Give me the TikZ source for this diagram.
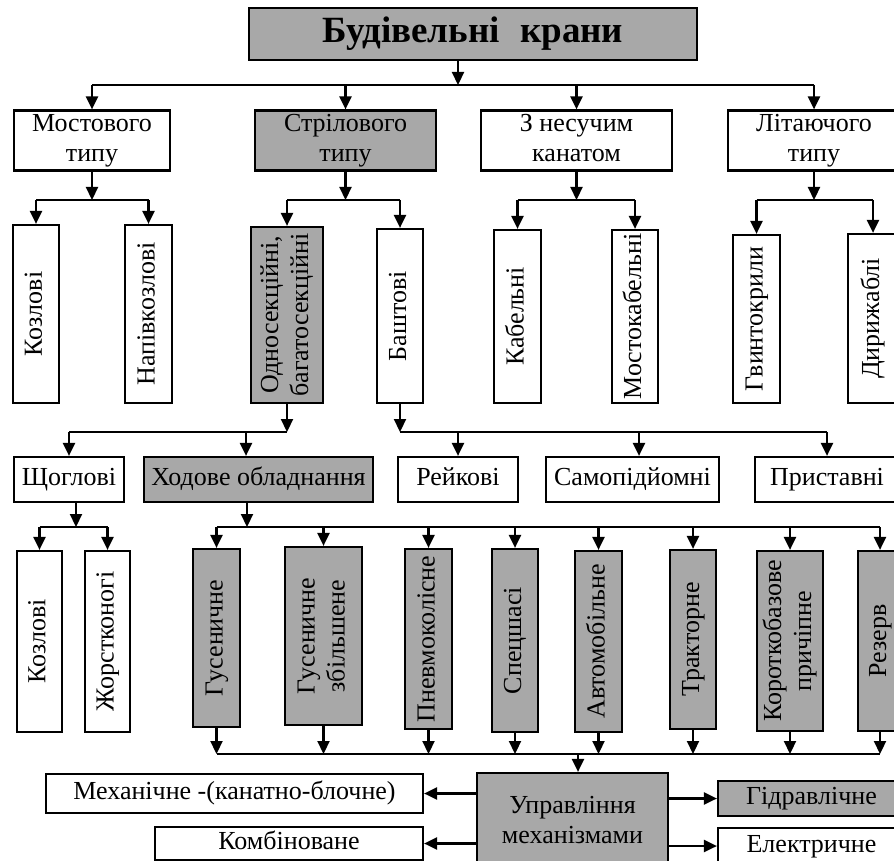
\documentclass[tikz,border=0pt]{standalone}
\usepackage{fontspec}
\setmainfont{Liberation Serif}
\usetikzlibrary{arrows.meta,calc}
\definecolor{boxgray}{RGB}{168,168,168}
\newcommand\mkbox[7]{\node[#2, minimum width={#4-#3}, minimum height={#6-#5}] (#1) at ({(#3+#4)/2},{(#5+#6)/2}) {#7};}
\newcommand\vt[1]{\rotatebox{90}{\strut #1}}
\newcommand\vtt[2]{\rotatebox{90}{\begin{tabular}{@{}c@{}}\strut #1\\\strut #2\end{tabular}}}
\newcommand\hzt[1]{\strut #1}
\begin{document}
\begin{tikzpicture}[x=1pt,y=-1pt, font=\fontsize{26}{30}\selectfont,
  box/.style={draw, line width=2.2pt, inner sep=0pt, align=center, fill=white},
  gbox/.style={box, fill=boxgray},
  arr/.style={line width=2.2pt, -{Triangle[length=13pt,width=12pt]}},
  ln/.style={line width=2.2pt}]
\useasboundingbox (0,0) rectangle (894,861);
\fill[white] (0,0) rectangle (894,861);
\clip (0,0) rectangle (894,861);
% row 0
\mkbox{top}{gbox}{249}{697}{8}{60}{\fontsize{37}{42}\selectfont\bfseries\strut Будівельні\hspace{0.55em}крани}
% row 1
\mkbox{mos}{box}{14}{170}{111}{170}{\hzt{Мостового}\\\hzt{типу}}
\mkbox{str}{gbox}{255}{436}{111}{170}{\hzt{Стрілового}\\\hzt{типу}}
\mkbox{nes}{box}{481}{672}{111}{170}{\hzt{З несучим}\\\hzt{канатом}}
\mkbox{lit}{box}{728}{900}{111}{170}{\hzt{Літаючого}\\\hzt{типу}}
% row 2
\mkbox{koza}{box}{13}{59}{225}{403}{\vt{Козлові}}
\mkbox{nap}{box}{125}{172}{225}{403}{\vt{Напівкозлові}}
\mkbox{odn}{gbox}{251}{323}{227}{403}{\vtt{Односекційні,}{багатосекційні}}
\mkbox{bas}{box}{377}{423}{229}{403}{\vt{Баштові}}
\mkbox{kab}{box}{494}{541}{230}{403}{\vt{Кабельні}}
\mkbox{mkab}{box}{612}{658}{230}{403}{\vt{Мостокабельні}}
\mkbox{gvy}{box}{733}{780}{235}{403}{\vt{Гвинтокрили}}
\mkbox{dyr}{box}{848}{898}{234}{403}{\vt{Дирижаблі}}
% row 3
\mkbox{shch}{box}{14}{124}{457}{502}{\hzt{Щоглові}}
\mkbox{hod}{gbox}{144}{373}{457}{502}{\hzt{Ходове обладнання}}
\mkbox{rei}{box}{398}{518}{457}{502}{\hzt{Рейкові}}
\mkbox{sam}{box}{546}{719}{457}{502}{\hzt{Самопідйомні}}
\mkbox{pry}{box}{755}{899}{457}{502}{\hzt{Приставні}}
% row 4
\mkbox{kozb}{box}{17}{62}{551}{732}{\vt{Козлові}}
\mkbox{zhor}{box}{85}{130}{551}{732}{\vt{Жорстконогі}}
\mkbox{gus}{gbox}{193}{240}{549}{727}{\vt{Гусеничне}}
\mkbox{gusz}{gbox}{285}{362}{547}{725}{\vtt{Гусеничне}{збільшене}}
\mkbox{pnev}{gbox}{405}{452}{549}{729}{\vt{Пневмоколісне}}
\mkbox{spec}{gbox}{492}{538}{549}{732}{\vt{Спецшасі}}
\mkbox{avto}{gbox}{575}{622}{551}{732}{\vt{Автомобільне}}
\mkbox{trak}{gbox}{670}{716}{550}{729}{\vt{Тракторне}}
\mkbox{kor}{gbox}{757}{823}{551}{731}{\vtt{Короткобазове}{причіпне}}
\mkbox{rez}{gbox}{858}{902}{551}{731}{\vt{Резерв}}
% row 5
\mkbox{upr}{gbox}{477}{668}{773}{871}{\hzt{Управління}\\\hzt{механізмами}}
\mkbox{mech}{box}{46}{423}{774}{813}{\hzt{Механічне -(канатно-блочне)}}
\mkbox{komb}{box}{155}{423}{827}{860}{\hzt{Комбіноване}}
\mkbox{hidr}{gbox}{718}{905}{781}{816}{\hzt{Гідравлічне}}
\mkbox{elek}{box}{718}{905}{828}{864}{\hzt{Електричне}}
% connectors row0 -> row1
\coordinate (b0) at (458,85);
\draw[arr] (top.south -| b0) -- (b0);
\draw[ln] (b0 -| mos.north) -- (b0 -| lit.north);
\foreach \n in {mos,str,nes,lit} \draw[arr] (b0 -| \n.north) -- (\n.north);
% row1 -> row2
\coordinate (b1) at (0,200);
\foreach \p/\a/\b in {mos/koza/nap, str/odn/bas, nes/kab/mkab, lit/gvy/dyr}{
  \draw[arr] (\p.south) -- (\p.south |- b1);
  \draw[ln] (\a.north |- b1) -- (\b.north |- b1);
  \draw[arr] (\a.north |- b1) -- (\a.north);
  \draw[arr] (\b.north |- b1) -- (\b.north);
}
% row2 -> row3
\coordinate (b2) at (0,432);
\coordinate (h1) at (246,432);
\draw[arr] (odn.south) -- (odn.south |- b2);
\draw[ln] (shch.north |- b2) -- (odn.south |- b2);
\draw[arr] (shch.north |- b2) -- (shch.north);
\draw[arr] (h1) -- (h1 |- hod.north);
\draw[arr] (bas.south) -- (bas.south |- b2);
\draw[ln] (bas.south |- b2) -- (pry.north |- b2);
\coordinate (s1) at (639,432);
\draw[arr] (rei.north |- b2) -- (rei.north);
\draw[arr] (s1) -- (s1 |- sam.north);
\draw[arr] (pry.north |- b2) -- (pry.north);
% row3 -> row4
\coordinate (b3) at (0,527);
\coordinate (sh1) at (76,527);
\draw[arr] (sh1 |- shch.south) -- (sh1);
\draw[ln] (kozb.north |- b3) -- (zhor.north |- b3);
\draw[arr] (kozb.north |- b3) -- (kozb.north);
\draw[arr] (zhor.north |- b3) -- (zhor.north);
\coordinate (hd1) at (247,527);
\draw[arr] (hd1 |- hod.south) -- (hd1);
\draw[ln] (gus.north |- b3) -- (rez.north |- b3);
\foreach \n in {gus,gusz,pnev,spec,avto,trak,kor,rez}
  \draw[arr] (\n.north |- b3) -- (\n.north);
% row4 -> collector
\coordinate (b4) at (0,754);
\foreach \n in {gus,gusz,pnev,spec,avto,trak,kor,rez}
  \draw[arr] (\n.south) -- (\n.south |- b4);
\draw[ln] (gus.south |- b4) -- (rez.south |- b4);
\coordinate (u1) at (578,754);
\draw[arr] (u1) -- (u1 |- upr.north);
% side arrows
\draw[arr] (upr.west |- mech.east) -- (mech.east);
\draw[arr] (upr.west |- komb.east) -- (komb.east);
\draw[arr] (upr.east |- hidr.west) -- (hidr.west);
\draw[arr] (upr.east |- elek.west) -- (elek.west);
\end{tikzpicture}
\end{document}
